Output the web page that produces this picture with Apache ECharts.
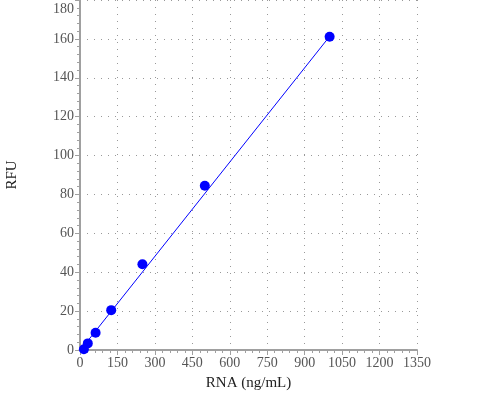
<!DOCTYPE html>
<html lang="en">
<head>
    <meta charset="UTF-8">
    <title>RNA standard curve</title>
    <script src="https://cdn.jsdelivr.net/npm/echarts@6/dist/echarts.min.js"></script>
    <style>
        html, body { margin: 0; padding: 0; background: #fff; }
        #main { width: 500px; height: 400px; }
    </style>
</head>
<body>
<div id="main"></div>
<script>
    // standards
    var rnaConc = [15.6, 31.25, 62.5, 125, 250, 500, 1000];
    var rfuValues = [0.4, 3.4, 8.9, 20.5, 44.1, 84.5, 161.1];
    // ends of the fitted line
    var fitX = [15.6, 1000];
    var fitY = [2.2, 161.3];
    var xTicks = [0, 150, 300, 450, 600, 750, 900, 1050, 1200, 1350];
    var yTicks = [0, 20, 40, 60, 80, 100, 120, 140, 160, 180];

    var serif = '"Liberation Serif", "Times New Roman", serif';
    var axisGray = '#a0a0a0';
    var tickText = {fontFamily: serif, fontSize: 14, color: '#555'};

    var myChart = echarts.init(document.getElementById('main'));
    var option = {
        animation: false,
        textStyle: {fontFamily: serif},
        grid: {left: 80, right: 83, top: 0, bottom: 50, outerBoundsMode: 'none', containLabel: false},
        xAxis: {
            type: 'value',
            min: xTicks[0],
            max: xTicks[xTicks.length - 1],
            interval: 150,
            name: 'RNA (ng/mL)',
            nameLocation: 'middle',
            nameGap: 26,
            nameTextStyle: {fontFamily: serif, fontSize: 15, color: '#222'},
            axisLine: {show: true, onZero: false, lineStyle: {color: axisGray, width: 2}},
            axisTick: {show: true, length: 5, lineStyle: {color: axisGray}},
            minorTick: {show: true, splitNumber: 5, length: 3, lineStyle: {color: axisGray}},
            axisLabel: {
                fontFamily: serif, fontSize: 14, color: '#555', margin: 6,
                formatter: function (v) { return '{t|' + v + '}'; },
                rich: {t: tickText}
            },
            splitLine: {show: true, lineStyle: {color: '#999', type: [1, 6], width: 1}}
        },
        yAxis: {
            type: 'value',
            min: yTicks[0],
            max: yTicks[yTicks.length - 1],
            interval: 20,
            name: 'RFU',
            nameLocation: 'middle',
            nameGap: 60,
            nameTextStyle: {fontFamily: serif, fontSize: 15, color: '#222'},
            axisLine: {show: true, onZero: false, lineStyle: {color: axisGray, width: 2}},
            axisTick: {show: true, length: 5, lineStyle: {color: axisGray}},
            minorTick: {show: true, splitNumber: 5, length: 3, lineStyle: {color: axisGray}},
            axisLabel: {
                fontFamily: serif, fontSize: 14, color: '#555', margin: 6,
                formatter: function (v) {
                    return v === yTicks[yTicks.length - 1] ? '{top|' + v + '}' : '{t|' + v + '}';
                },
                rich: {
                    t: tickText,
                    top: {fontFamily: serif, fontSize: 14, color: '#555', padding: [18, 0, 0, 0]}
                }
            },
            splitLine: {show: true, lineStyle: {color: '#999', type: [1, 6], width: 1}}
        },
        series: [
            {
                type: 'line',
                data: fitX.map(function (x, i) { return [x, fitY[i]]; }),
                showSymbol: false,
                lineStyle: {color: '#0000ff', width: 1},
                z: 2
            },
            {
                type: 'scatter',
                data: rnaConc.map(function (x, i) { return [x, rfuValues[i]]; }),
                symbolSize: 10,
                itemStyle: {color: '#0000ff', opacity: 1},
                z: 3
            }
        ]
    };
    myChart.setOption(option);
</script>
</body>
</html>
